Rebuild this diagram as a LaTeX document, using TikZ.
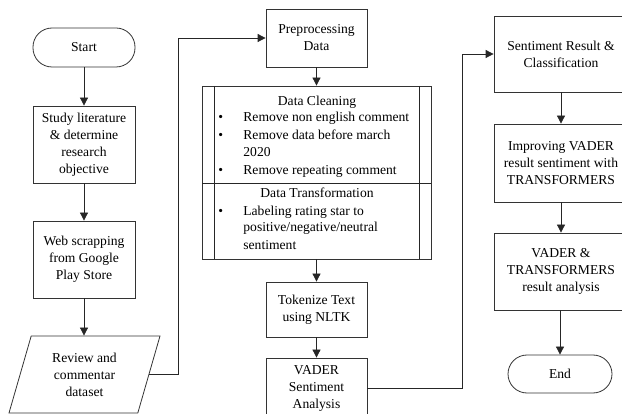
\documentclass[tikz,border=0pt]{standalone}
\usepackage{fontspec}
\setmainfont{Liberation Serif}
\usetikzlibrary{arrows.meta,shapes.geometric}
\begin{document}
\begin{tikzpicture}[x=1pt,y=-1pt,
  line width=0.8pt,
  every node/.style={font=\fontsize{13.6}{17}\selectfont, text=black},
  box/.style={draw=black!80, rectangle, inner sep=1pt, align=center},
  term/.style={draw=black!80, rectangle, rounded corners=19pt, inner sep=0pt},
  arr/.style={draw=black!85, -{Triangle[length=8pt,width=8pt]}},
  ln/.style={draw=black!85},
  lbl/.style={inner sep=0pt, anchor=mid},
  bul/.style={inner sep=0pt, anchor=mid west}
]
\useasboundingbox (0,0) rectangle (622,414);

% left column
\node[term, minimum width=102pt, minimum height=39pt] (start) at (84,47.5) {Start};
\node[box, minimum width=102pt, minimum height=77pt] (study) at (84,144.5) {Study literature\\ \& determine\\ research\\ objective};
\node[box, minimum width=102pt, minimum height=77pt] (web) at (84,259.5) {Web scrapping\\ from Google\\ Play Store};
\node[draw=black!80, trapezium, trapezium left angle=63, trapezium right angle=117,
      trapezium stretches body, minimum width=151pt, minimum height=77pt, inner sep=0pt,
      align=center] (rev) at (84.5,374.5) {Review and\\ commentar\\ dataset};

% middle column
\node[box, minimum width=101pt, minimum height=58pt] (pre) at (316.5,38) {Preprocessing\\ Data};
\node[draw=black!80, rectangle, minimum width=229pt, minimum height=173pt, inner sep=0pt] (dc) at (316.5,172.5) {};
\draw[ln] (214,86) -- (214,259);
\draw[ln] (419,86) -- (419,259);
\draw[ln] (202,183) -- (431,183);
\node[lbl] (dch) at (317,103) {Data Cleaning};
\node[bul] (b1) at (218,119) {\textbullet};
\node[bul] (t1) at (243,119) {Remove non english comment};
\node[bul] (b2) at (218,137) {\textbullet};
\node[bul] (t2) at (243,137) {Remove data before march};
\node[bul] (t2b) at (243,154) {2020};
\node[bul] (b3) at (218,172) {\textbullet};
\node[bul] (t3) at (243,172) {Remove repeating comment};
\node[lbl] (dth) at (317,195) {Data Transformation};
\node[bul] (b4) at (218,213) {\textbullet};
\node[bul] (t4) at (243,213) {Labeling rating star to};
\node[bul] (t4b) at (243,229.5) {positive/negative/neutral};
\node[bul] (t4c) at (243,247) {sentiment};

\node[box, minimum width=101pt, minimum height=55pt] (tok) at (316.5,309.5) {Tokenize Text\\ using NLTK};
\node[box, minimum width=101pt, minimum height=60pt] (vad) at (316.5,388) {VADER\\ Sentiment\\ Analysis};

% right column
\node[box, minimum width=134pt, minimum height=76pt] (sent) at (561,54) {Sentiment Result \&\\ Classification};
\node[box, minimum width=134pt, minimum height=78pt] (imp) at (561,163) {Improving VADER\\ result sentiment with\\ TRANSFORMERS};
\node[box, minimum width=134pt, minimum height=77pt] (vt) at (561,271.5) {VADER \&\\ TRANSFORMERS\\ result analysis};
\node[term, minimum width=104pt, minimum height=38pt] (end) at (560,374) {End};

% connectors
\draw[arr] (start) -- (study);
\draw[arr] (study) -- (web);
\draw[arr] (web) -- (rev.north -| web.south);
\draw[arr] (rev.east) -- ++(29,0) |- (pre.west);
\draw[arr] (pre) -- (dc);
\draw[arr] (dc) -- (tok);
\draw[arr] (tok) -- (vad);
\draw[arr] (vad.east) -- ++(95,0) |- (sent.west);
\draw[arr] (sent) -- (imp);
\draw[arr] (imp) -- (vt);
\draw[arr] (vt.south -| end.north) -- (end.north);
\end{tikzpicture}
\end{document}
